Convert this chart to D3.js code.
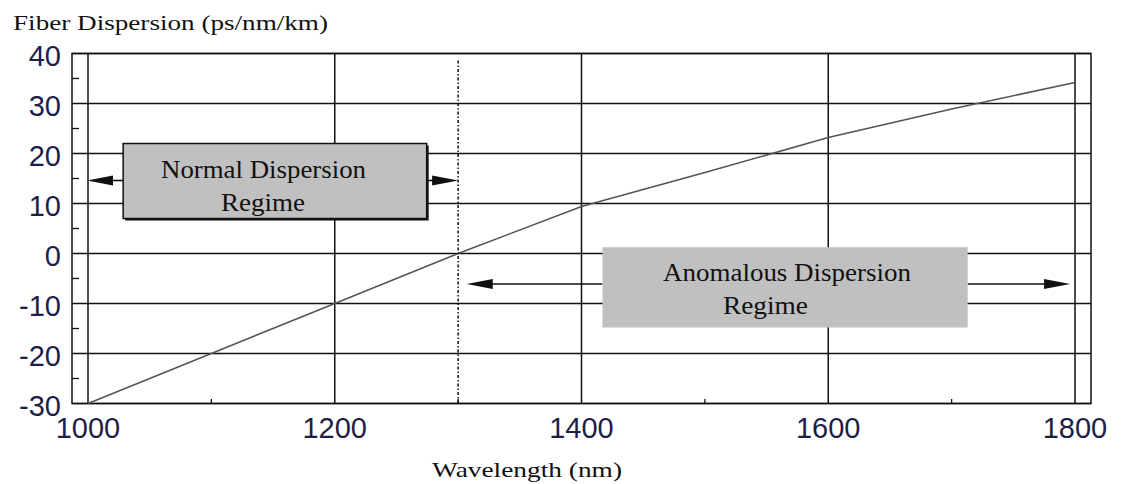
<!DOCTYPE html>
<html><head><meta charset="utf-8">
<script src="https://cdn.jsdelivr.net/npm/d3@7"></script>
<style>body{margin:0;background:#fff}svg{display:block}</style>
</head><body><svg id="c" width="1122" height="484"></svg>
<script>
// ---- data ----
const wavelengths = [1000, 1100, 1200, 1300, 1400, 1500, 1600, 1700, 1800];
const dispersion  = [-30, -20, -10, 0, 9.4, 16.2, 23.2, 28.9, 34.2];
const xTicks = [1000, 1200, 1400, 1600, 1800];
const xMinorTicks = [1100, 1300, 1500, 1700];
const yTicks = [-30, -20, -10, 0, 10, 20, 30, 40];
const yMinorTicks = [-25, -15, -5, 5, 15, 25, 35];
const zeroDispersionWavelength = 1300;
const yTitle = "Fiber Dispersion (ps/nm/km)";
const xTitle = "Wavelength (nm)";
const normalLabel = ["Normal Dispersion", "Regime"];
const anomalousLabel = ["Anomalous Dispersion", "Regime"];

// ---- layout ----
const svg = d3.select("#c");
const L = 72, R = 1091, T = 53.5, B = 403.5;
const x = d3.scaleLinear().domain([1000, 1800]).range([88, 1075]);
const y = d3.scaleLinear().domain([-30, 40]).range([B, T]);
const ink = "#111";

svg.append("rect").attr("width",1122).attr("height",484).attr("fill","#fff");

const g = svg.append("g");
// horizontal grid
g.selectAll("line.h").data(yTicks).enter().append("line")
  .attr("x1", L).attr("x2", R).attr("y1", d => y(d)).attr("y2", d => y(d))
  .attr("stroke", ink).attr("stroke-width", 1.5);
// vertical grid
g.selectAll("line.v").data(xTicks).enter().append("line")
  .attr("x1", d => x(d)).attr("x2", d => x(d)).attr("y1", T).attr("y2", B)
  .attr("stroke", ink).attr("stroke-width", 1.5);
// border
g.append("rect").attr("x", L).attr("y", T).attr("width", R - L).attr("height", B - T)
  .attr("fill", "none").attr("stroke", ink).attr("stroke-width", 1.5);
// minor ticks
g.selectAll("line.my").data(yMinorTicks).enter().append("line")
  .attr("x1", L).attr("x2", L + 7).attr("y1", d => y(d)).attr("y2", d => y(d))
  .attr("stroke", ink).attr("stroke-width", 1.3);
g.selectAll("line.mx").data(xMinorTicks).enter().append("line")
  .attr("x1", d => x(d)).attr("x2", d => x(d)).attr("y1", B).attr("y2", B - 4.5)
  .attr("stroke", ink).attr("stroke-width", 1.3);

// tick labels
const lblColor = "#1e1e46";
g.selectAll("text.yl").data(yTicks).enter().append("text")
  .attr("x", 61).attr("y", d => y(d) + 12).attr("text-anchor", "end")
  .attr("font-family", "Liberation Sans, Arial, sans-serif").attr("font-size", 29)
  .attr("fill", lblColor).text(d => d);
g.selectAll("text.xl").data(xTicks).enter().append("text")
  .attr("x", d => x(d)).attr("y", 437.5).attr("text-anchor", "middle")
  .attr("font-family", "Liberation Sans, Arial, sans-serif").attr("font-size", 29)
  .attr("fill", lblColor).text(d => d);

// titles
svg.append("text").attr("x", 13).attr("y", 30)
  .attr("font-family", "Liberation Serif, Times New Roman, serif").attr("font-size", 22)
  .attr("textLength", 315).attr("lengthAdjust", "spacingAndGlyphs")
  .attr("fill", "#111").text(yTitle);
svg.append("text").attr("x", 432).attr("y", 477)
  .attr("font-family", "Liberation Serif, Times New Roman, serif").attr("font-size", 22)
  .attr("textLength", 190).attr("lengthAdjust", "spacingAndGlyphs")
  .attr("fill", "#111").text(xTitle);

// curve
const pts = wavelengths.map((w, i) => [w, dispersion[i]]);
svg.append("path").datum(pts)
  .attr("d", d3.line().x(d => x(d[0])).y(d => y(d[1])))
  .attr("fill", "none").attr("stroke", "#555").attr("stroke-width", 1.6);

// zero-dispersion dotted line
svg.append("line").attr("x1", x(zeroDispersionWavelength)).attr("x2", x(zeroDispersionWavelength))
  .attr("y1", T + 7).attr("y2", B).attr("stroke", "#000").attr("stroke-width", 1.4)
  .attr("stroke-dasharray", "3,2,1.5,2");

// arrows
function arrow(x1, x2, yy) { // from x1 to tip x2
  const dir = Math.sign(x2 - x1);
  svg.append("line").attr("x1", x1).attr("x2", x2 - dir * 10).attr("y1", yy).attr("y2", yy)
    .attr("stroke", "#111").attr("stroke-width", 1.6);
  svg.append("path")
    .attr("d", `M${x2},${yy} L${x2 - dir * 26},${yy - 5} L${x2 - dir * 26},${yy + 5} Z`)
    .attr("fill", "#111");
}
// normal regime
const nY = y(14.6);
const nBox = {x0: x(1028.5), x1: x(1274.5), y0: y(22), y1: y(7)};
arrow(nBox.x0, x(1000) - 1, nY);
arrow(nBox.x1, x(zeroDispersionWavelength), nY);
svg.append("rect").attr("x", nBox.x0 + 2).attr("y", nBox.y0 + 2)
  .attr("width", nBox.x1 - nBox.x0).attr("height", nBox.y1 - nBox.y0).attr("fill", "#111");
svg.append("rect").attr("x", nBox.x0).attr("y", nBox.y0)
  .attr("width", nBox.x1 - nBox.x0).attr("height", nBox.y1 - nBox.y0)
  .attr("fill", "#c0c0c0").attr("stroke", "#111").attr("stroke-width", 1.5);
svg.append("text").attr("x", 161).attr("y", 177.5)
  .attr("font-family", "Liberation Serif, Times New Roman, serif").attr("font-size", 25)
  .attr("textLength", 205).attr("lengthAdjust", "spacingAndGlyphs").attr("fill", "#111").text(normalLabel[0]);
svg.append("text").attr("x", 221).attr("y", 211)
  .attr("font-family", "Liberation Serif, Times New Roman, serif").attr("font-size", 25)
  .attr("textLength", 84).attr("lengthAdjust", "spacingAndGlyphs").attr("fill", "#111").text(normalLabel[1]);

// anomalous regime
const aY = y(-6.1);
const aBox = {x0: x(1417), x1: x(1713), y0: y(1.25), y1: y(-14.8)};
arrow(aBox.x0, x(1307), aY);
arrow(aBox.x1, x(1796), aY);
svg.append("rect").attr("x", aBox.x0).attr("y", aBox.y0)
  .attr("width", aBox.x1 - aBox.x0).attr("height", aBox.y1 - aBox.y0)
  .attr("fill", "#c0c0c0");
svg.append("text").attr("x", 663).attr("y", 281)
  .attr("font-family", "Liberation Serif, Times New Roman, serif").attr("font-size", 25)
  .attr("textLength", 248).attr("lengthAdjust", "spacingAndGlyphs").attr("fill", "#111").text(anomalousLabel[0]);
svg.append("text").attr("x", 723).attr("y", 313.5)
  .attr("font-family", "Liberation Serif, Times New Roman, serif").attr("font-size", 25)
  .attr("textLength", 85).attr("lengthAdjust", "spacingAndGlyphs").attr("fill", "#111").text(anomalousLabel[1]);
</script></body></html>
